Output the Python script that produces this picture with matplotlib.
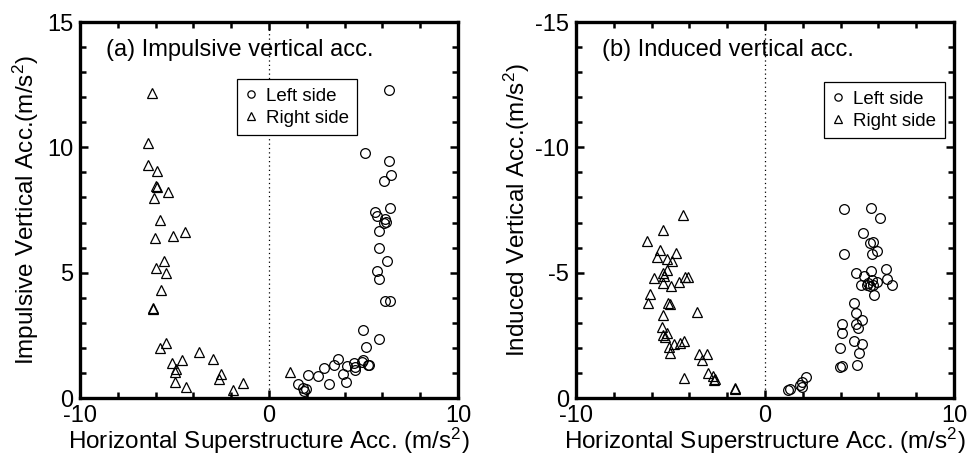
import matplotlib
matplotlib.use("Agg")
import matplotlib.pyplot as plt
from matplotlib.ticker import MultipleLocator, FixedLocator

plt.rcParams["font.family"] = ["Liberation Sans", "DejaVu Sans"]
plt.rcParams["mathtext.fontset"] = "custom"
plt.rcParams["mathtext.rm"] = "Liberation Sans"
plt.rcParams["mathtext.default"] = "regular"
plt.rcParams["axes.unicode_minus"] = False

# (a) impulsive vertical acc. -- left side (circles)
a_left_x = [6.37, 5.08, 6.37, 6.46, 6.07, 6.40, 5.61, 5.71, 6.14, 6.19, 6.10, 5.84, 5.84,
            6.23, 5.70, 5.84, 6.14, 6.42, 4.96, 5.84, 5.13, 3.63, 3.42, 2.93, 4.13, 4.52,
            4.57, 4.96, 4.90, 5.22, 5.31, 4.57, 3.90, 2.61, 2.05, 4.07, 3.19, 1.52, 1.78,
            1.96, 1.87]
a_left_y = [12.29, 9.79, 9.47, 8.90, 8.66, 7.57, 7.43, 7.27, 7.13, 7.03, 6.97, 6.67, 5.97,
            5.46, 5.07, 4.75, 3.87, 3.88, 2.71, 2.34, 2.05, 1.54, 1.32, 1.21, 1.28, 1.38,
            1.25, 1.52, 1.42, 1.32, 1.32, 1.12, 0.96, 0.89, 0.92, 0.65, 0.57, 0.55, 0.39,
            0.35, 0.29]
# (a) right side (triangles)
a_right_x = [-6.21, -6.42, -6.39, -5.93, -6.00, -5.93, -5.36, -6.10, -5.75, -6.03, -5.10,
             -4.43, -5.54, -5.98, -5.45, -5.71, -6.15, -6.12, -5.45, -5.75, -3.69, -2.98,
             -4.60, -5.13, -4.92, -4.96, -2.54, -2.63, -4.96, -4.39, -1.36, -1.92, 1.11]
a_right_y = [12.18, 10.16, 9.29, 9.07, 8.47, 8.43, 8.20, 7.97, 7.10, 6.37, 6.47,
             6.63, 5.46, 5.20, 4.97, 4.31, 3.55, 3.58, 2.21, 1.98, 1.85, 1.56,
             1.52, 1.38, 1.14, 1.05, 0.96, 0.76, 0.65, 0.43, 0.59, 0.32, 1.05]

# (b) induced vertical acc. -- left side (circles)
b_left_x = [4.20, 5.61, 6.08, 5.17, 5.70, 5.56, 5.91, 5.66, 4.20, 6.40, 4.81, 5.61, 5.24,
            6.47, 5.94, 5.64, 5.47, 5.73, 5.56, 5.38, 5.06, 6.70, 5.78, 4.73, 4.81, 5.15,
            4.09, 4.80, 4.94, 4.06, 4.71, 5.15, 3.97, 4.99, 4.85, 4.06, 3.97, 2.17, 1.94,
            1.85, 1.94, 1.32, 1.23]
b_left_y = [-7.53, -7.59, -7.17, -6.57, -6.24, -6.17, -5.88, -5.73, -5.73, -5.13, -5.00,
            -5.07, -4.87, -4.75, -4.64, -4.71, -4.57, -4.51, -4.47, -4.51, -4.51, -4.51,
            -4.11, -3.78, -3.40, -3.11, -2.94, -2.94, -2.78, -2.61, -2.27, -2.14, -2.01,
            -1.81, -1.32, -1.28, -1.22, -0.85, -0.65, -0.52, -0.45, -0.35, -0.32]
# (b) right side (triangles)
b_right_x = [-4.32, -5.41, -6.22, -5.56, -4.73, -5.73, -5.20, -4.94, -5.17, -5.38, -5.86,
             -5.33, -4.23, -4.06, -5.41, -4.99, -4.55, -6.08, -6.17, -5.15, -5.03, -3.58,
             -5.41, -5.47, -5.38, -5.20, -5.29, -4.29, -4.50, -4.81, -5.06, -5.03, -3.48,
             -3.05, -3.35, -3.00, -2.74, -2.65, -2.70, -4.27, -1.59, -1.56]
b_right_y = [-7.30, -6.70, -6.27, -5.90, -5.80, -5.64, -5.53, -5.48, -5.11, -4.97, -4.80,
             -4.87, -4.84, -4.81, -4.57, -4.48, -4.61, -4.15, -3.78, -3.78, -3.74, -3.42,
             -3.31, -2.82, -2.51, -2.58, -2.45, -2.29, -2.21, -2.15, -2.05, -1.78, -1.76,
             -1.74, -1.52, -1.01, -0.89, -0.76, -0.72, -0.79, -0.37, -0.40]

XLABEL = "Horizontal Superstructure Acc. (m/s$^{2}$)"
FS_TICK = 17
FS_LABEL = 17.5
FS_TITLE = 17
FS_LEG = 13.5


def style_axes(ax, ymajor):
    for s in ax.spines.values():
        s.set_linewidth(2.4)
    ax.set_xlim(-10, 10)
    ax.xaxis.set_major_locator(FixedLocator([-10, 0, 10]))
    ax.xaxis.set_minor_locator(MultipleLocator(2))
    ax.yaxis.set_major_locator(FixedLocator(ymajor))
    ax.yaxis.set_minor_locator(MultipleLocator(1))
    ax.tick_params(which="both", direction="in", top=True, right=True,
                   labelsize=FS_TICK, width=1.8)
    ax.tick_params(axis="x", pad=5)
    ax.tick_params(axis="y", pad=5)
    ax.tick_params(which="major", length=6)
    ax.tick_params(which="minor", length=4.5)
    ax.axvline(0, color="black", ls=(0, (1, 2.5)), lw=0.9, zorder=0)


def scatter(ax, lx, ly, rx, ry, loc):
    ax.plot(lx, ly, ls="none", marker="o", ms=7, mfc="none", mec="black",
            mew=0.9, label="Left side")
    ax.plot(rx, ry, ls="none", marker="^", ms=7.5, mfc="none", mec="black",
            mew=0.9, label="Right side")
    leg = ax.legend(loc="upper left", bbox_to_anchor=loc, fontsize=FS_LEG,
                    frameon=True, fancybox=False, edgecolor="black",
                    framealpha=1, markerscale=0.75, handlelength=0.6,
                    handletextpad=0.5, borderpad=0.45, labelspacing=0.25,
                    borderaxespad=0)
    leg.get_frame().set_linewidth(0.9)


fig = plt.figure(figsize=(9.69, 4.54), dpi=100)
ax1 = fig.add_axes([0.0826, 0.1233, 0.3901, 0.8282])
ax2 = fig.add_axes([0.5944, 0.1233, 0.3901, 0.8282])

# (a)
style_axes(ax1, [0, 5, 10, 15])
ax1.set_ylim(0, 15)
scatter(ax1, a_left_x, a_left_y, a_right_x, a_right_y, (0.415, 0.848))
ax1.text(0.07, 0.925, "(a) Impulsive vertical acc.", transform=ax1.transAxes,
         fontsize=FS_TITLE, va="center", ha="left")
ax1.set_xlabel(XLABEL, fontsize=FS_LABEL, labelpad=-1)
ax1.set_ylabel("Impulsive Vertical Acc.(m/s$^{2}$)", fontsize=FS_LABEL, labelpad=4)

# (b)
style_axes(ax2, [0, -5, -10, -15])
ax2.set_ylim(0, -15)
scatter(ax2, b_left_x, b_left_y, b_right_x, b_right_y, (0.657, 0.84))
ax2.text(0.07, 0.925, "(b) Induced vertical acc.", transform=ax2.transAxes,
         fontsize=FS_TITLE, va="center", ha="left")
ax2.set_xlabel(XLABEL, fontsize=FS_LABEL, labelpad=-1)
ax2.set_ylabel("Induced Vertical Acc.(m/s$^{2}$)", fontsize=FS_LABEL, labelpad=2)

fig.savefig("out.png", dpi=100)
